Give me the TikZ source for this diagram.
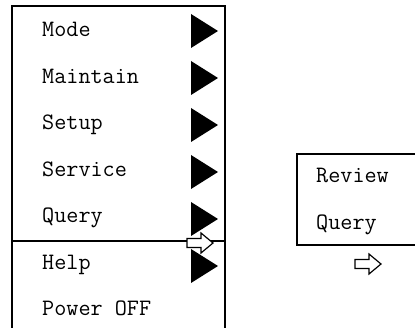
\documentclass[tikz,border=0pt]{standalone}
\begin{document}
\begin{tikzpicture}[
    x=1pt, y=-1pt,
    menuitem/.style={
        font=\ttfamily\fontsize{23.5}{26}\selectfont,
        anchor=base west,
        inner sep=0pt
    },
    frame/.style={
        line width=1.3pt
    },
    hollowarrow/.pic={
        \draw[line width=1.2pt, fill=white]
            (-13,-4.5) -- (1,-4.5) -- (1,-10) -- (13,0) -- (1,10) -- (1,4.5) -- (-13,4.5) -- cycle;
    }
]
    \useasboundingbox (0,0) rectangle (415,328);
    \clip (0,0) rectangle (415,328);

    % main menu frame
    \draw[frame] (12,340) -- (12,6) -- (225,6) -- (225,340);
    \draw[frame] (12,241) -- (225,241);

    % main menu entries
    \node[menuitem] (mode) at (42,37) {Mode};
    \node[menuitem] (maintain) at (42,83.5) {Maintain};
    \node[menuitem] (setup) at (42,130) {Setup};
    \node[menuitem] (service) at (42,176.5) {Service};
    \node[menuitem] (query) at (42,223) {Query};
    \node[menuitem] (help) at (42,269.5) {Help};
    \node[menuitem] (poweroff) at (42,316) {Power OFF};

    % submenu markers
    \foreach \y in {31,78,125,172,219,266}
        \fill (191,\y-17) -- (218,\y) -- (191,\y+17) -- cycle;

    \pic at (200,243) {hollowarrow};

    % submenu of Query
    \draw[frame] (430,154) -- (297,154) -- (297,245) -- (430,245);
    \node[menuitem] (review) at (316,183) {Review};
    \node[menuitem] (subquery) at (316,230) {Query};

    \pic at (368,264) {hollowarrow};

\end{tikzpicture}
\end{document}
